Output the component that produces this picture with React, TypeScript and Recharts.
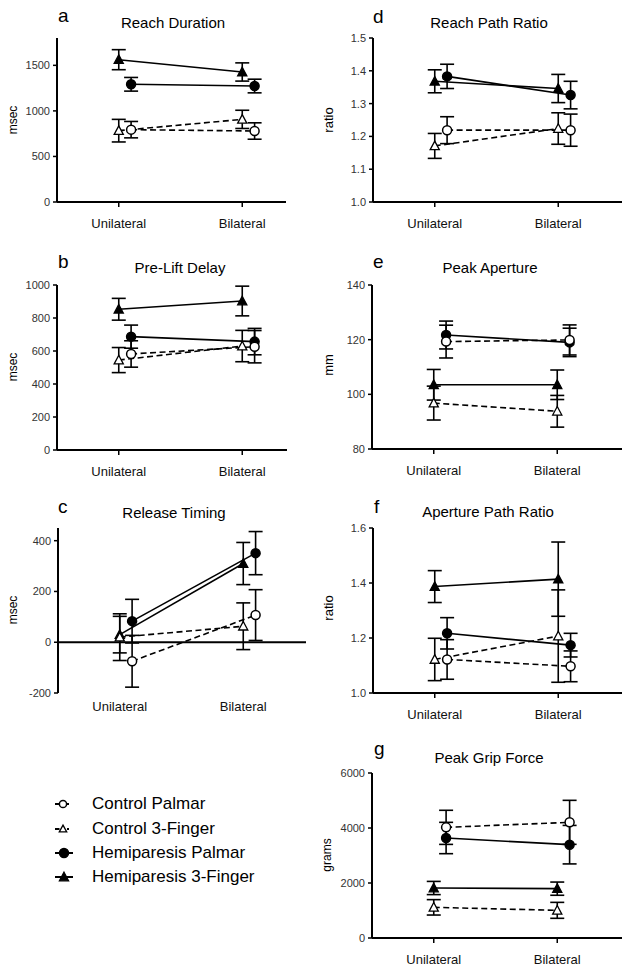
import React from 'react';
import { LineChart, Line, XAxis, YAxis, ErrorBar, ReferenceLine, Legend } from 'recharts';

const W = 629;
const H = 971;
const FONT = '"Liberation Sans", Arial, Helvetica, sans-serif';
const UNIT = 123.5; // px per category step on the numeric x scale

const categories = ['Unilateral', 'Bilateral'];
const seriesNames = ['Control Palmar', 'Control 3-Finger', 'Hemiparesis Palmar', 'Hemiparesis 3-Finger'];

// values per series (order as seriesNames), each [Unilateral, Bilateral]
const reachDurationMean = [[794, 779], [783, 907], [1292, 1273], [1562, 1427]];
const reachDurationErr = [[90, 90], [124, 100], [75, 75], [110, 100]];
const reachDurationTicks = [0, 500, 1000, 1500];

const preLiftMean = [[582, 626], [545, 630], [687, 657], [853, 903]];
const preLiftErr = [[80, 98], [76, 95], [70, 80], [66, 90]];
const preLiftTicks = [0, 200, 400, 600, 800, 1000];

const releaseMean = [[-75, 107], [20, 63], [83, 351], [30, 310]];
const releaseErr = [[102, 100], [92, 92], [86, 85], [72, 83]];
const releaseTicks = [-200, 0, 200, 400];

const reachPathMean = [[1.219, 1.219], [1.171, 1.224], [1.383, 1.326], [1.368, 1.346]];
const reachPathErr = [[0.041, 0.049], [0.038, 0.048], [0.037, 0.042], [0.035, 0.043]];
const reachPathTicks = [1.0, 1.1, 1.2, 1.3, 1.4, 1.5];

const peakApertureMean = [[119.3, 119.9], [96.8, 93.8], [121.7, 119.0], [103.5, 103.5]];
const peakApertureErr = [[6, 5.5], [6.2, 5.8], [5.1, 5.2], [5.6, 5.4]];
const peakApertureTicks = [80, 100, 120, 140];

const aperturePathMean = [[1.122, 1.097], [1.122, 1.207], [1.217, 1.174], [1.387, 1.414]];
const aperturePathErr = [[0.072, 0.056], [0.077, 0.168], [0.057, 0.043], [0.058, 0.135]];
const aperturePathTicks = [1.0, 1.2, 1.4, 1.6];

const gripMean = [[4024, 4206], [1115, 1006], [3636, 3394], [1818, 1794]];
const gripErr = [[620, 800], [280, 290], [570, 700], [240, 240]];
const gripTicks = [0, 2000, 4000, 6000];

type SeriesStyle = { shape: 'circle' | 'triangle'; filled: boolean; dashed: boolean; dx: number };
const seriesStyles: SeriesStyle[] = [
  { shape: 'circle', filled: false, dashed: true, dx: 0.1 },
  { shape: 'triangle', filled: false, dashed: true, dx: 0 },
  { shape: 'circle', filled: true, dashed: false, dx: 0.1 },
  { shape: 'triangle', filled: true, dashed: false, dx: 0 },
];

type PanelCfg = {
  id: string;
  letter: string;
  title: string;
  ylabel: string;
  mean: number[][];
  err: number[][];
  ticks: number[];
  domain: [number, number];
  x0: number;
  x1: number;
  y0: number;
  y1: number;
  decimals: number;
  zero?: boolean;
  legend?: boolean;
};

const panels: PanelCfg[] = [
  { id: 'a', letter: 'a', title: 'Reach Duration', ylabel: 'msec', mean: reachDurationMean, err: reachDurationErr, ticks: reachDurationTicks, domain: [0, 1800], x0: 57, x1: 286, y0: 38, y1: 202, decimals: 0 },
  { id: 'b', letter: 'b', title: 'Pre-Lift Delay', ylabel: 'msec', mean: preLiftMean, err: preLiftErr, ticks: preLiftTicks, domain: [0, 1000], x0: 57, x1: 287, y0: 285, y1: 450, decimals: 0 },
  { id: 'c', letter: 'c', title: 'Release Timing', ylabel: 'msec', mean: releaseMean, err: releaseErr, ticks: releaseTicks, domain: [-200, 450], x0: 58, x1: 306, y0: 528, y1: 693, decimals: 0, zero: true },
  { id: 'd', letter: 'd', title: 'Reach Path Ratio', ylabel: 'ratio', mean: reachPathMean, err: reachPathErr, ticks: reachPathTicks, domain: [1.0, 1.5], x0: 373, x1: 622, y0: 38, y1: 202, decimals: 1 },
  { id: 'e', letter: 'e', title: 'Peak Aperture', ylabel: 'mm', mean: peakApertureMean, err: peakApertureErr, ticks: peakApertureTicks, domain: [80, 140], x0: 372, x1: 622, y0: 285, y1: 449, decimals: 0 },
  { id: 'f', letter: 'f', title: 'Aperture Path Ratio', ylabel: 'ratio', mean: aperturePathMean, err: aperturePathErr, ticks: aperturePathTicks, domain: [1.0, 1.6], x0: 373, x1: 622, y0: 528, y1: 693, decimals: 1 },
  { id: 'g', letter: 'g', title: 'Peak Grip Force', ylabel: 'grams', mean: gripMean, err: gripErr, ticks: gripTicks, domain: [0, 6000], x0: 372, x1: 622, y0: 773, y1: 938, decimals: 0, legend: true },
];

// text placement (page coordinates)
const titlePos: Record<string, [number, number]> = {
  a: [173, 28], b: [180, 273], c: [174, 518], d: [489, 28], e: [490, 273], f: [488, 517], g: [489, 763],
};
const letterPos: Record<string, [number, number]> = {
  a: [58, 22], b: [58, 268], c: [58, 513], d: [373, 23], e: [373, 268], f: [374, 513], g: [374, 755],
};
const ylabelPos: Record<string, [number, number, number]> = {
  a: [17, 120, 12], b: [17, 367, 12], c: [17, 610, 12], d: [333, 120, 13], e: [333, 365, 13], f: [333, 608, 13], g: [331, 855, 12],
};

function Marker({ cx, cy, st, r = 4.5 }: { cx: number; cy: number; st: SeriesStyle; r?: number }) {
  const fill = st.filled ? '#000' : '#fff';
  if (st.shape === 'circle') {
    return <circle cx={cx} cy={cy} r={r} fill={fill} stroke="#000" strokeWidth={1.5} />;
  }
  const t = r * 0.95;
  const hw = t + 0.3;
  const d = `M${cx},${cy - t - 0.5} L${cx + hw},${cy + t - 0.5} L${cx - hw},${cy + t - 0.5} Z`;
  return <path d={d} fill={fill} stroke="#000" strokeWidth={1.3} strokeLinejoin="miter" />;
}

function buildSeries(cfg: PanelCfg, s: number) {
  return categories.map((c, i) => ({
    x: i + 1 + seriesStyles[s].dx,
    y: cfg.mean[s][i],
    e: cfg.err[s][i],
    cat: c,
  }));
}

function LegendContent() {
  return (
    <div style={{ fontFamily: FONT, fontSize: 17, color: '#000' }}>
      {seriesNames.map((name, s) => {
        const st = seriesStyles[s];
        return (
          <div key={name} style={{ display: 'flex', alignItems: 'center', height: 24.4 }}>
            <svg width={30} height={16} style={{ marginRight: 12, flex: 'none' }}>
              {st.dashed ? (
                <g>
                  <line x1={5} y1={8} x2={9.5} y2={8} stroke="#000" strokeWidth={2} />
                  <line x1={17} y1={8} x2={19} y2={8} stroke="#000" strokeWidth={2} />
                  <Marker cx={13} cy={8} st={st} r={3.6} />
                </g>
              ) : (
                <g>
                  <line x1={5} y1={8} x2={23} y2={8} stroke="#000" strokeWidth={2} />
                  <Marker cx={14} cy={8} st={st} r={4.5} />
                </g>
              )}
            </svg>
            <span style={{ whiteSpace: 'nowrap' }}>{name}</span>
          </div>
        );
      })}
    </div>
  );
}

function Panel({ cfg }: { cfg: PanelCfg }) {
  const yW = 50;
  const xH = 40;
  const xDomain: [number, number] = [0.5, 0.5 + (cfg.x1 - cfg.x0) / UNIT];
  const order = [3, 2, 1, 0];
  return (
    <div style={{ position: 'absolute', left: 0, top: 0 }}>
      <LineChart
        width={W}
        height={H}
        margin={{ left: cfg.x0 - yW, right: W - cfg.x1, top: cfg.y0, bottom: H - cfg.y1 - xH }}
      >
        <XAxis
          type="number"
          dataKey="x"
          domain={xDomain}
          ticks={[1, 2]}
          interval={0}
          allowDataOverflow
          height={xH}
          tickFormatter={(v: number) => categories[Math.round(v) - 1]}
          axisLine={cfg.zero ? false : { stroke: '#000', strokeWidth: 2 }}
          tickLine={cfg.zero ? false : { stroke: '#000', strokeWidth: 1.5 }}
          tickSize={cfg.zero ? 0 : 5}
          tickMargin={cfg.zero ? 9 : 12}
          tick={{ fill: '#111', fontSize: 13, fontFamily: FONT }}
        />
        <YAxis
          type="number"
          domain={cfg.domain}
          ticks={cfg.ticks}
          interval={0}
          allowDataOverflow
          width={yW}
          tickFormatter={(v: number) => v.toFixed(cfg.decimals)}
          axisLine={{ stroke: '#000', strokeWidth: 2 }}
          tickLine={{ stroke: '#000', strokeWidth: 1.5 }}
          tickSize={4}
          tickMargin={3}
          tick={{ fill: '#333', fontSize: 11, fontFamily: FONT }}
        />
        {cfg.zero && <ReferenceLine y={0} stroke="#000" strokeWidth={2} />}
        {order.map((s) => {
          const st = seriesStyles[s];
          return (
            <Line
              key={seriesNames[s]}
              name={seriesNames[s]}
              data={buildSeries(cfg, s)}
              dataKey="y"
              stroke="#000"
              strokeWidth={1.6}
              strokeDasharray={st.dashed ? '6 3.5' : undefined}
              isAnimationActive={false}
              activeDot={false}
              dot={(p: any) => <Marker key={`${s}-${p.index}`} cx={p.cx} cy={p.cy} st={st} />}
            >
              <ErrorBar dataKey="e" direction="y" width={7} stroke="#000" strokeWidth={1.6} isAnimationActive={false} />
            </Line>
          );
        })}
        {cfg.legend && (
          <Legend
            layout="vertical"
            align="center"
            verticalAlign="middle"
            wrapperStyle={{ position: 'absolute', left: 50, top: 792, width: 260, height: 100 }}
            content={() => <LegendContent />}
          />
        )}
      </LineChart>
    </div>
  );
}

export default function App() {
  return (
    <div style={{ position: 'absolute', left: 0, top: 0, width: W, height: H, background: '#fff', fontFamily: FONT, overflow: 'hidden' }}>
      {panels.map((p) => (
        <Panel key={p.id} cfg={p} />
      ))}
      <svg width={W} height={H} style={{ position: 'absolute', left: 0, top: 0, pointerEvents: 'none' }} fontFamily={FONT}>
        {panels.map((p) => {
          const [tx, ty] = titlePos[p.id];
          const [lx, ly] = letterPos[p.id];
          const [yx, yy, fs] = ylabelPos[p.id];
          return (
            <g key={p.id}>
              <text x={tx} y={ty} textAnchor="middle" fontSize={15} fill="#000">{p.title}</text>
              <text x={lx} y={ly} fontSize={19} fill="#000">{p.letter}</text>
              <text transform={`translate(${yx},${yy}) rotate(-90)`} textAnchor="middle" fontSize={fs} fill="#000">{p.ylabel}</text>
            </g>
          );
        })}
      </svg>
    </div>
  );
}
